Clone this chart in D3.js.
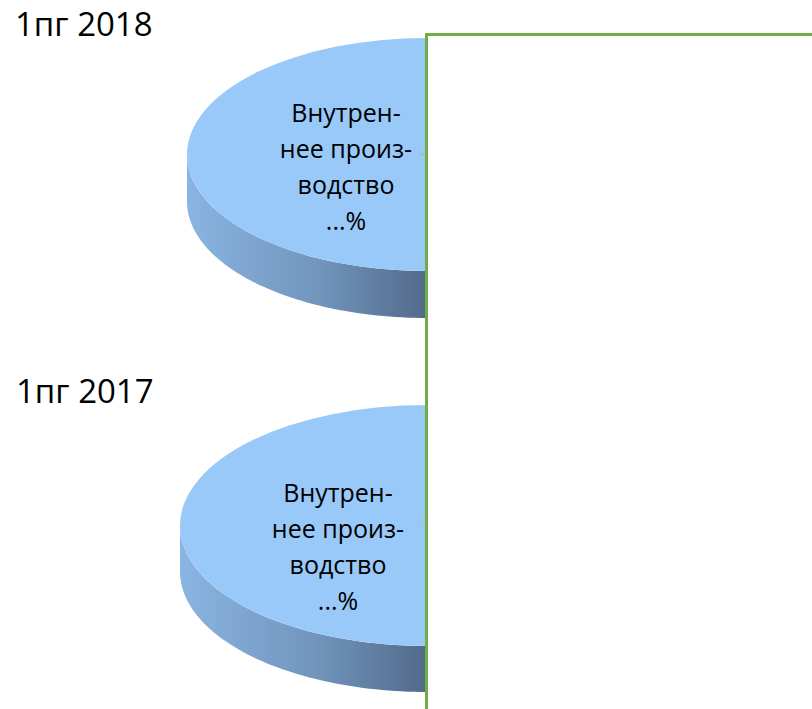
<!DOCTYPE html>
<html><head><meta charset="utf-8">
<script src="https://cdn.jsdelivr.net/npm/d3@7"></script>
<style>html,body{margin:0;padding:0;background:#fff;}svg{display:block;}</style>
</head><body>
<svg id="c" width="812" height="709"></svg>
<script>
// ---- data ----
const periods = ["1пг 2018", "1пг 2017"];
const sliceNames = ["Внутреннее производство", "Прочее"];
const shares2018 = [50, 50];
const shares2017 = [50, 50];
const labelLines = ["Внутрен-", "нее произ-", "водство", "...%"];

const svg = d3.select("#c");
const font = "'Open Sans', sans-serif";

const layout = [
  {title: periods[0], values: shares2018, cx: 427, cy: 154.5, rx: 240, ry: 116.5, depth: 47, tx: 15, ty: 36, lx: 346, ly: 122, tick: "#e3a24a"},
  {title: periods[1], values: shares2017, cx: 427, cy: 525.5, rx: 247, ry: 120.5, depth: 46, tx: 16, ty: 403, lx: 338, ly: 502, tick: "#c8b49a"}
];

const defs = svg.append("defs");
const pieGen = d3.pie().sort(null).startAngle(Math.PI).endAngle(3 * Math.PI);

layout.forEach((p, i) => {
  const gid = "side" + i;
  const grad = defs.append("linearGradient").attr("id", gid)
    .attr("gradientUnits", "userSpaceOnUse")
    .attr("x1", p.cx - p.rx).attr("x2", p.cx).attr("y1", 0).attr("y2", 0);
  grad.append("stop").attr("offset", "0%").attr("stop-color", "#8ab4e2");
  grad.append("stop").attr("offset", "55%").attr("stop-color", "#7195bd");
  grad.append("stop").attr("offset", "100%").attr("stop-color", "#526a8a");

  const arcs = pieGen(p.values);
  const colors = ["#99c9f8", "#ffffff"];

  // side of the first slice (front-left visible part)
  const a0 = arcs[0];
  const sA = Math.max(a0.startAngle, Math.PI / 2), eA = Math.min(a0.endAngle, 3 * Math.PI / 2);
  const ex = a => p.cx + p.rx * Math.sin(a), ey = a => p.cy - p.ry * Math.cos(a);
  const path = d3.path();
  const n = 60;
  for (let k = 0; k <= n; k++) {
    const a = sA + (eA - sA) * k / n;
    k === 0 ? path.moveTo(ex(a), ey(a)) : path.lineTo(ex(a), ey(a));
  }
  for (let k = n; k >= 0; k--) {
    const a = sA + (eA - sA) * k / n;
    path.lineTo(ex(a), ey(a) + p.depth);
  }
  path.closePath();
  svg.append("path").attr("d", path.toString()).attr("fill", `url(#${gid})`);

  // top surface
  const arc = d3.arc().innerRadius(0).outerRadius(p.rx);
  const g = svg.append("g").attr("transform", `translate(${p.cx},${p.cy}) scale(1,${p.ry / p.rx})`);
  g.selectAll("path").data(arcs).join("path")
    .attr("d", arc).attr("fill", (d, j) => colors[j]);

  // title
  svg.append("text").attr("x", p.tx).attr("y", p.ty)
    .attr("font-family", font).attr("font-size", 33).attr("fill", "#000")
    .text(p.title);

  // data label
  const t = svg.append("text").attr("font-family", font).attr("font-size", 25)
    .attr("fill", "#000").attr("text-anchor", "middle");
  labelLines.forEach((s, j) => {
    t.append("tspan").attr("x", p.lx).attr("y", p.ly + j * 36).text(s);
  });

  // small leader tick
  svg.append("line").attr("x1", p.cx - 6).attr("x2", p.cx).attr("y1", p.cy).attr("y2", p.cy)
    .attr("stroke", p.tick).attr("stroke-width", 1);
});

// white overlay box with green border
svg.append("rect").attr("x", 426.5).attr("y", 34.5).attr("width", 400).attr("height", 700)
  .attr("fill", "#fff").attr("stroke", "#70ad47").attr("stroke-width", 3);
</script>
</body></html>
